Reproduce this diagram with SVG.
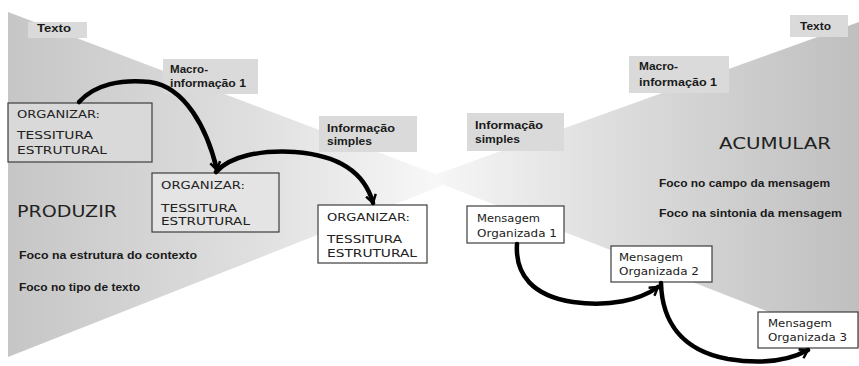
<svg xmlns="http://www.w3.org/2000/svg" width="859" height="366" viewBox="0 0 859 366">
<defs>
<linearGradient id="gl" gradientUnits="userSpaceOnUse" x1="8" y1="0" x2="454" y2="0">
<stop offset="0" stop-color="#c6c6c6"/><stop offset="0.55" stop-color="#dfdfdf"/><stop offset="1" stop-color="#fafafa"/>
</linearGradient>
<linearGradient id="gr" gradientUnits="userSpaceOnUse" x1="859" y1="0" x2="426" y2="0">
<stop offset="0" stop-color="#bfbfbf"/><stop offset="0.55" stop-color="#dcdcdc"/><stop offset="1" stop-color="#f8f8f8"/>
</linearGradient>
<marker id="ah" markerUnits="userSpaceOnUse" markerWidth="16" markerHeight="16" refX="11" refY="7" orient="auto" viewBox="0 0 16 14">
<path d="M3,2 L11,7 L3,12" fill="none" stroke="#000" stroke-width="2.5" stroke-linejoin="miter"/>
</marker>
<style>
.lab{fill:#dadada}
.lt{font-family:"Liberation Sans",Arial,sans-serif;font-weight:bold;font-size:10px;fill:#1a1a1a}
.ft{font-family:"Liberation Sans",Arial,sans-serif;font-weight:bold;font-size:11px;fill:#1a1a1a}
.bx{stroke:#3c3c3c;stroke-width:1.2}
.bt{font-family:"DejaVu Sans",sans-serif;font-size:11px;fill:#222}
.big{font-family:"DejaVu Sans",sans-serif;font-size:16px;fill:#222}
.arr{fill:none;stroke:#000;stroke-width:4.5;stroke-linecap:round;marker-end:url(#ah)}
</style>
</defs>
<rect width="859" height="366" fill="#fff"/>
<polygon points="8,12 454,181 8,357" fill="url(#gl)"/>
<polygon points="859,22 426,178 859,347" fill="url(#gr)"/>

<g id="label-texto-left"><rect class="lab" x="28" y="22" width="59" height="16" fill="#e0e0e0"/><text class="lt" x="37" y="32" textLength="34" lengthAdjust="spacingAndGlyphs">Texto</text></g>
<g id="label-macro-left"><rect class="lab" x="163" y="59" width="95" height="35"/><text class="lt" x="170" y="73" textLength="38" lengthAdjust="spacingAndGlyphs">Macro-</text><text class="lt" x="170" y="87" textLength="76" lengthAdjust="spacingAndGlyphs">informação 1</text></g>
<g id="label-info-left"><rect class="lab" x="319" y="116" width="98" height="36"/><text class="lt" x="327" y="132" textLength="68" lengthAdjust="spacingAndGlyphs">Informação</text><text class="lt" x="327" y="145" textLength="45" lengthAdjust="spacingAndGlyphs">simples</text></g>
<g id="label-info-right"><rect class="lab" x="467" y="113" width="97" height="38"/><text class="lt" x="475" y="129" textLength="68" lengthAdjust="spacingAndGlyphs">Informação</text><text class="lt" x="475" y="143" textLength="45" lengthAdjust="spacingAndGlyphs">simples</text></g>
<g id="label-macro-right"><rect class="lab" x="629" y="56" width="100" height="37"/><text class="lt" x="639" y="70" textLength="39" lengthAdjust="spacingAndGlyphs">Macro-</text><text class="lt" x="639" y="86" textLength="78" lengthAdjust="spacingAndGlyphs">informação 1</text></g>
<g id="label-texto-right"><rect class="lab" x="790" y="15" width="58" height="22" fill="#e0e0e0"/><text class="lt" x="800" y="30" textLength="31" lengthAdjust="spacingAndGlyphs">Texto</text></g>

<g id="produzir"><text class="big" x="17" y="217" textLength="100" lengthAdjust="spacingAndGlyphs">PRODUZIR</text>
<text class="ft" x="19" y="259" textLength="178" lengthAdjust="spacingAndGlyphs">Foco na estrutura do contexto</text>
<text class="ft" x="19" y="291" textLength="121" lengthAdjust="spacingAndGlyphs">Foco no tipo de texto</text></g>
<g id="acumular"><text class="big" x="719" y="149" textLength="112" lengthAdjust="spacingAndGlyphs">ACUMULAR</text>
<text class="ft" x="659" y="187" textLength="171" lengthAdjust="spacingAndGlyphs">Foco no campo da mensagem</text>
<text class="ft" x="659" y="217" textLength="183" lengthAdjust="spacingAndGlyphs">Foco na sintonia da mensagem</text></g>

<g id="organizar-1"><rect class="bx" x="8" y="103" width="144" height="59" fill="#d9d9d9"/>
<text class="bt" x="17" y="118" textLength="83" lengthAdjust="spacingAndGlyphs">ORGANIZAR:</text>
<text class="bt" x="17" y="139" textLength="76" lengthAdjust="spacingAndGlyphs">TESSITURA</text>
<text class="bt" x="17" y="154" textLength="90" lengthAdjust="spacingAndGlyphs">ESTRUTURAL</text></g>
<g id="organizar-2"><rect class="bx" x="152" y="173" width="127" height="59" fill="#e4e4e4"/>
<text class="bt" x="161" y="189" textLength="84" lengthAdjust="spacingAndGlyphs">ORGANIZAR:</text>
<text class="bt" x="161" y="212" textLength="76" lengthAdjust="spacingAndGlyphs">TESSITURA</text>
<text class="bt" x="161" y="225" textLength="89" lengthAdjust="spacingAndGlyphs">ESTRUTURAL</text></g>
<g id="organizar-3"><rect class="bx" x="318" y="205" width="109" height="58" fill="#fff"/>
<text class="bt" x="327" y="221" textLength="83" lengthAdjust="spacingAndGlyphs">ORGANIZAR:</text>
<text class="bt" x="327" y="243" textLength="75" lengthAdjust="spacingAndGlyphs">TESSITURA</text>
<text class="bt" x="327" y="257" textLength="90" lengthAdjust="spacingAndGlyphs">ESTRUTURAL</text></g>
<g id="mensagem-1"><rect class="bx" x="467" y="206" width="97" height="37" fill="#fff"/>
<text class="bt" x="477" y="222" textLength="63" lengthAdjust="spacingAndGlyphs">Mensagem</text>
<text class="bt" x="477" y="237" textLength="80" lengthAdjust="spacingAndGlyphs">Organizada 1</text></g>
<g id="mensagem-2"><rect class="bx" x="611" y="246" width="101" height="36" fill="#fff"/>
<text class="bt" x="619" y="261" textLength="64" lengthAdjust="spacingAndGlyphs">Mensagem</text>
<text class="bt" x="619" y="275" textLength="80" lengthAdjust="spacingAndGlyphs">Organizada 2</text></g>
<g id="mensagem-3"><rect class="bx" x="758" y="312" width="100" height="36" fill="#fff"/>
<text class="bt" x="768" y="327" textLength="64" lengthAdjust="spacingAndGlyphs">Mensagem</text>
<text class="bt" x="768" y="341" textLength="79" lengthAdjust="spacingAndGlyphs">Organizada 3</text></g>

<g id="connectors">
<path class="arr" d="M79,102 C95,84 122,79 150,82 C185,87 207,128 217,170"/>
<path class="arr" d="M216,172 C230,156 260,150 295,152 C335,155 364,170 373,203"/>
<path class="arr" d="M517,244 C515,275 533,296 573,302 C610,307 640,300 658,287"/>
<path class="arr" d="M661,283 C662,320 680,350 728,359 C765,365 790,360 808,350"/>
</g>
</svg>
